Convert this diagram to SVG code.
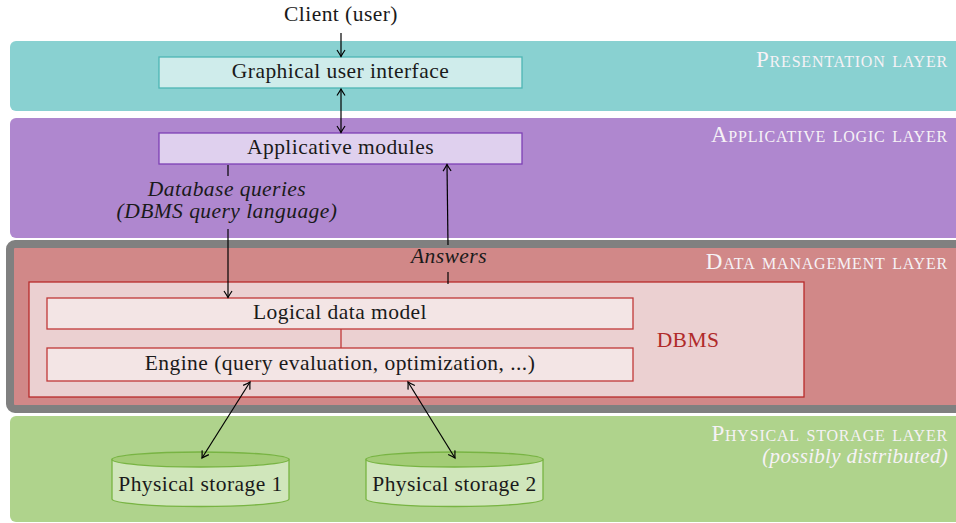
<svg xmlns="http://www.w3.org/2000/svg" width="956" height="523" viewBox="0 0 956 523">
<style>
text{font-family:'Liberation Serif','DejaVu Serif',serif;font-size:21.5px;letter-spacing:0.45px;fill:#1a1a1a}
.c{text-anchor:middle}
.lay{text-anchor:end;font-variant:small-caps;fill:#f6f2f6;font-size:23px;letter-spacing:0.8px}
.it{font-style:italic}
.ln{stroke:#000;stroke-width:1.2;fill:none}
.a{marker-end:url(#ah)}
.aa{marker-end:url(#ah);marker-start:url(#ah)}
</style>
<defs>
<marker id="ah" viewBox="-8 -5 10 10" refX="0" refY="0" markerWidth="10" markerHeight="10" markerUnits="userSpaceOnUse" orient="auto-start-reverse">
<path d="M-6.5,-4 Q-2,-1 0,0 Q-2,1 -6.5,4" fill="none" stroke="#000" stroke-width="1.2"/>
</marker>
</defs>

<g id="layer-presentation">
<rect x="10" y="41" width="970" height="70" rx="6" fill="#89d1d1"/>
<text class="lay" x="948" y="67">Presentation layer</text>
</g>
<g id="layer-applicative">
<rect x="10" y="118" width="970" height="120" rx="6" fill="#af87cf"/>
<text class="lay" x="948" y="142">Applicative logic layer</text>
</g>
<g id="layer-data">
<rect x="10" y="244" width="970" height="165" rx="5" fill="#d18888" stroke="#808080" stroke-width="8"/>
<text class="lay" x="948" y="269">Data management layer</text>
</g>
<g id="layer-physical">
<rect x="10" y="416" width="970" height="106" rx="6" fill="#afd38c"/>
<text class="lay" x="948" y="441">Physical storage layer</text>
<text class="lay it" x="948" y="463" style="font-variant:normal;font-size:21px;letter-spacing:0.3px">(possibly distributed)</text>
</g>

<g id="client">
<text class="c" x="341" y="21">Client (user)</text>
</g>
<g id="gui">
<rect x="159" y="57" width="363" height="31" fill="#cfeceb" stroke="#4db6b4" stroke-width="1.3"/>
<text class="c" x="340.5" y="78">Graphical user interface</text>
</g>
<g id="applicative-modules">
<rect x="159" y="133" width="363" height="31" fill="#dfd0ee" stroke="#7d3fb5" stroke-width="1.3"/>
<text class="c" x="340.5" y="154">Applicative modules</text>
</g>
<g id="dbms">
<rect x="29" y="282" width="775" height="115" fill="#ebd0d1" stroke="#b82a2a" stroke-width="1.3"/>
<text class="c" x="688" y="347" style="fill:#b02a2a">DBMS</text>
</g>
<g id="logical-data-model">
<rect x="47" y="298" width="586" height="31" fill="#f3e5e5" stroke="#c03838" stroke-width="1.3"/>
<text class="c" x="340" y="319">Logical data model</text>
</g>
<g id="engine">
<rect x="47" y="348" width="586" height="33" fill="#f3e5e5" stroke="#c03838" stroke-width="1.3"/>
<text class="c" x="340" y="370">Engine (query evaluation, optimization, ...)</text>
</g>
<g id="storage1">
<path d="M112,459.5 L112,499 A88.5,7.5 0 0 0 289,499 L289,459.5 Z" fill="#d0e6bb" stroke="#78b443" stroke-width="1.3"/>
<ellipse cx="200.5" cy="459.5" rx="88.5" ry="7.5" fill="#a3cc76" stroke="#78b443" stroke-width="1.3"/>
<text class="c" x="200.5" y="491">Physical storage 1</text>
</g>
<g id="storage2">
<path d="M366,459.5 L366,499 A88.5,7.5 0 0 0 543,499 L543,459.5 Z" fill="#d0e6bb" stroke="#78b443" stroke-width="1.3"/>
<ellipse cx="454.5" cy="459.5" rx="88.5" ry="7.5" fill="#a3cc76" stroke="#78b443" stroke-width="1.3"/>
<text class="c" x="454.5" y="491">Physical storage 2</text>
</g>

<g id="connectors">
<line class="ln a" x1="341" y1="33" x2="341" y2="56.5"/>
<line class="ln aa" x1="341" y1="89" x2="341" y2="132.5"/>
<line class="ln" x1="228" y1="165" x2="228" y2="176"/>
<text class="c it" x="227" y="196">Database queries</text>
<text class="c it" x="227" y="218">(DBMS query language)</text>
<line class="ln a" x1="228" y1="229" x2="228" y2="297.5"/>
<line class="ln" x1="448" y1="284" x2="448" y2="272"/>
<text class="c it" x="449" y="263">Answers</text>
<line class="ln a" x1="448" y1="245" x2="447" y2="164.5"/>
<line class="ln aa" x1="250" y1="382" x2="202" y2="458"/>
<line class="ln aa" x1="408" y1="382" x2="455" y2="458"/>
<line x1="341" y1="329" x2="341" y2="348" stroke="#c03838" stroke-width="1.3"/>
</g>
</svg>
